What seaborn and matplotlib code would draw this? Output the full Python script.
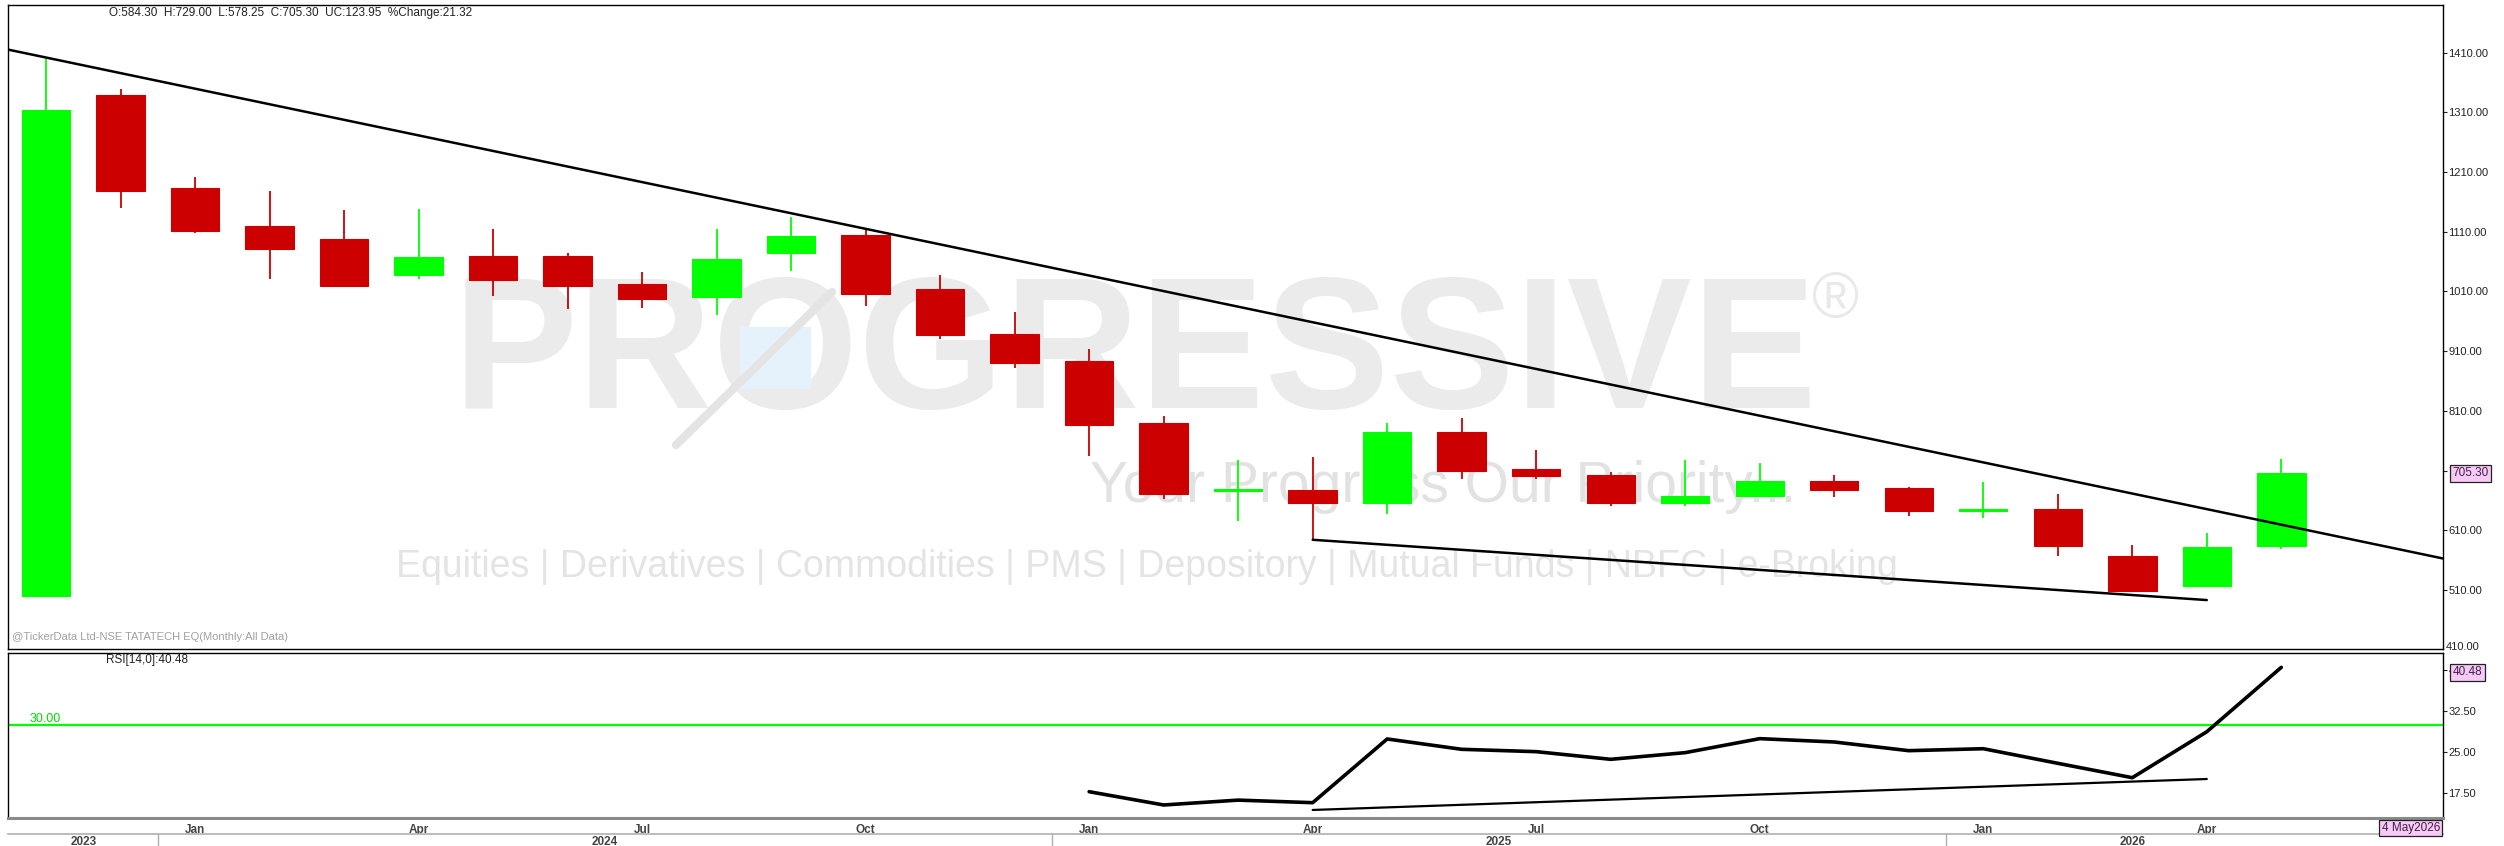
import numpy as np
import pandas as pd
import matplotlib.pyplot as plt
import seaborn as sns

sns.set_style("white")
plt.rcParams['font.family'] = ['Liberation Sans', 'DejaVu Sans']

W, H = 2504, 846

# Monthly candles, Nov 2023 .. May 2026
months = pd.period_range("2023-11", "2026-05", freq="M")
opens = [500, 1340, 1184, 1119, 1098, 1038, 1070, 1070, 1023, 1000, 1075, 1105,
         1014, 938, 894, 789, 675, 677, 656, 774, 713, 703, 656, 668,
         692, 681, 643, 645, 567, 517, 584.30]
highs = [1400, 1350, 1202, 1179, 1146, 1148, 1115, 1075, 1043, 1115, 1135, 1113,
         1037, 975, 913, 802, 728, 732, 790, 798, 745, 707, 727, 723,
         703, 683, 690, 670, 585, 606, 729.00]
lows = [500, 1150, 1108, 1031, 1018, 1031, 1003, 980, 982, 970, 1044, 986,
        930, 882, 735, 663, 625, 594, 638, 695, 695, 651, 651, 665,
        665, 634, 631, 567, 506, 515, 578.25]
closes = [1314, 1179, 1111, 1082, 1020, 1067, 1029, 1020, 998, 1065, 1103, 1005,
          937, 890, 786, 671, 679, 656, 774, 709, 701, 656, 668, 692,
          678, 642, 646, 584, 508, 581.35, 705.30]

# RSI(14) values, Jan 2025 .. May 2026
rsi_start = "2025-01"
rsi_vals = [17.74, 15.31, 16.2, 15.73, 27.38, 25.49, 25.06, 23.66, 24.88, 27.44,
            26.83, 25.24, 25.6, 22.93, 20.3, 28.7, 40.48]

# trendline anchors (month, value)
upper_tl = [("2023-11", 1402), ("2024-10", 1115)]
lower_tl = [("2025-04", 594), ("2026-04", 493)]
rsi_tl = [("2025-04", 14.4), ("2026-04", 20.06)]
rsi_level = 30

price_ticks = [510, 610, 710, 810, 910, 1010, 1110, 1210, 1310, 1410]
rsi_ticks = [17.5, 25.0, 32.5, 40.0]

df = pd.DataFrame({"month": months, "open": opens, "high": highs,
                   "low": lows, "close": closes})
df["i"] = np.arange(len(df))
df["up"] = df["close"] >= df["open"]
df["color"] = np.where(df["up"], "#00ff00", "#cc0000")

def mi(m):
    return (pd.Period(m, freq="M") - months[0]).n

rsi_df = pd.DataFrame({"i": np.arange(len(rsi_vals)) + mi(rsi_start), "rsi": rsi_vals})

def fx(px):
    return px / W

def fy(py):
    return 1 - py / H

fig = plt.figure(figsize=(W / 100, H / 100), dpi=100)
ax = fig.add_axes([fx(8), fy(649), fx(2443) - fx(8), fy(5) - fy(649)])
ax_r = fig.add_axes([fx(8), fy(818), fx(2443) - fx(8), fy(653) - fy(818)], sharex=ax)
ax_y = fig.add_axes([fx(8), fy(846), fx(2443) - fx(8), fy(834) - fy(846)], sharex=ax)

xmin, xmax = -0.51, 32.17
ax.set_xlim(xmin, xmax)
ax.set_ylim(411, 1490)
ax_r.set_ylim(12.93, 43.1)

# watermark
narrow = ["Liberation Sans Narrow", "Liberation Sans"]
wm = dict(transform=fig.transFigure, zorder=0, clip_on=False)
ax.text(fx(452), fy(360), "PROGRESSIVE", fontsize=135, fontweight="bold", color="#ebebeb",
        va="center", ha="left", **wm)
ax.text(fx(1812), fy(300), "®", fontsize=46, color="#e9e9e9", va="center", ha="left", **wm)
ax.add_patch(plt.Rectangle((fx(740), fy(388)), fx(70), fy(327) - fy(388), color="#e6f2fb",
                           transform=fig.transFigure, zorder=0))
ax.plot([fx(676), fx(832)], [fy(445), fy(292)], color="#e4e4e4", lw=6, transform=fig.transFigure, zorder=0)
ax.text(fx(1090), fy(487), "Your Progress Our Priority...", fontsize=41, color="#e2e2e2",
        family=narrow, va="center", ha="left", **wm)
ax.text(fx(396), fy(567), "Equities | Derivatives | Commodities | PMS | Depository | Mutual Funds | NBFC | e-Broking",
        fontsize=27, color="#e4e4e4", family=narrow, va="center", ha="left", **wm)

# candles
ax.vlines(df["i"], df["low"], df["high"], colors=df["color"], lw=1.3, zorder=2)
ax.bar(df["i"], (df["close"] - df["open"]).abs(), bottom=df[["open", "close"]].min(axis=1),
       width=0.65, color=df["color"], edgecolor=df["color"], lw=0.8, zorder=3)

# trendlines
(a0, v0), (a1, v1) = [(mi(m), v) for m, v in upper_tl]
slope = (v1 - v0) / (a1 - a0)
ax.plot([xmin, xmax], [v0 + slope * (xmin - a0), v0 + slope * (xmax - a0)], color="black", lw=1.8, zorder=4)
ax.plot([mi(m) for m, _ in lower_tl], [v for _, v in lower_tl], color="black", lw=1.8, zorder=4)

ax.yaxis.tick_right()
ax.set_yticks(price_ticks)
ax.set_yticklabels([f"{v:.2f}" for v in price_ticks])
ax.tick_params(axis="y", direction="out", length=3, width=0.8, pad=1, labelsize=8, colors="#222222")
ax.tick_params(axis="x", bottom=False, labelbottom=False)
for s in ax.spines.values():
    s.set_color("black")
    s.set_linewidth(1)

# RSI panel
sns.lineplot(data=rsi_df, x="i", y="rsi", ax=ax_r, color="black", lw=2.6, zorder=4)
ax_r.axhline(rsi_level, color="#00ff00", lw=1.6, zorder=2)
ax_r.plot([mi(m) for m, _ in rsi_tl], [v for _, v in rsi_tl], color="black", lw=1.6, zorder=3)
ax_r.set_xlabel("")
ax_r.set_ylabel("")
ax_r.yaxis.tick_right()
ax_r.set_yticks(rsi_ticks)
ax_r.set_yticklabels([f"{v:.2f}" for v in rsi_ticks])
ax_r.tick_params(axis="y", direction="out", length=3, width=0.8, pad=1, labelsize=8, colors="#222222")
for s in ax_r.spines.values():
    s.set_color("black")
    s.set_linewidth(1)
ax_r.spines["bottom"].set_color("#8a8a8a")
ax_r.spines["bottom"].set_linewidth(2.2)

qtr = [i for i, m in enumerate(months) if m.month in (1, 4, 7, 10)]
ax_r.set_xticks(qtr)
ax_r.set_xticklabels([months[i].strftime("%b") for i in qtr])
ax_r.tick_params(axis="x", direction="out", length=4, width=1, color="#8a8a8a", pad=0,
                 labelsize=8.5, labelcolor="#444444")
for lab in ax_r.get_xticklabels():
    lab.set_family(narrow)
    lab.set_fontweight("bold")

# year row
ax_y.set_ylim(0, 1)
ax_y.set_yticks([])
ax_y.tick_params(axis="x", bottom=False, labelbottom=False)
for k in ["left", "right", "bottom"]:
    ax_y.spines[k].set_visible(False)
ax_y.spines["top"].set_color("#b0b0b0")
ax_y.spines["top"].set_linewidth(1.2)
years = sorted(set(m.year for m in months))
for y in years:
    idx = [i for i, m in enumerate(months) if m.year == y]
    ax_y.text(np.mean(idx), 0.35, str(y), ha="center", va="center", fontsize=8.5, fontweight="bold",
              color="#444444", family=narrow)
    if idx[0] > 0:
        ax_y.axvline(idx[0] - 0.5, color="#b0b0b0", lw=1)

# header / labels
last = df.iloc[-1]
prev_close = df["close"].iloc[-2]
uc = last["close"] - prev_close
fig.text(fx(109), fy(13),
         f"O:{last['open']:.2f}  H:{last['high']:.2f}  L:{last['low']:.2f}  C:{last['close']:.2f}  "
         f"UC:{uc:.2f}  %Change:{uc / prev_close * 100:.2f}",
         fontsize=8.5, color="#222222", va="center", ha="left")
fig.text(fx(12), fy(637), "@TickerData Ltd-NSE TATATECH EQ(Monthly:All Data)", fontsize=8,
         color="#a0a0a0", va="center", ha="left")
fig.text(fx(106), fy(660), f"RSI[14,0]:{rsi_vals[-1]:.2f}", fontsize=8.5, color="#222222", va="center")
fig.text(fx(30), fy(719), f"{rsi_level:.2f}", fontsize=9, color="#00dd00", va="center", ha="left")
fig.text(fx(2446), fy(647), "410.00", fontsize=8, color="#222222", va="center", ha="left")

box = dict(boxstyle="square,pad=0.2", facecolor="#f7c9f7", edgecolor="#222222", lw=0.9)
ax.text(1.004, last["close"], f"{last['close']:.2f}", transform=ax.get_yaxis_transform(),
        fontsize=8.5, color="#402040", va="center", ha="left", bbox=box, zorder=10, clip_on=False)
ax_r.text(1.004, rsi_vals[-1] - 0.9, f"{rsi_vals[-1]:.2f}", transform=ax_r.get_yaxis_transform(),
          fontsize=8.5, color="#402040", va="center", ha="left", bbox=box, zorder=10, clip_on=False)
fig.text(fx(2440), fy(828), f"4 {months[-1].strftime('%b%Y')}", fontsize=8.5, color="#402040",
         va="center", ha="right", bbox=box)

fig.savefig("out.png", dpi=100, facecolor="white")
